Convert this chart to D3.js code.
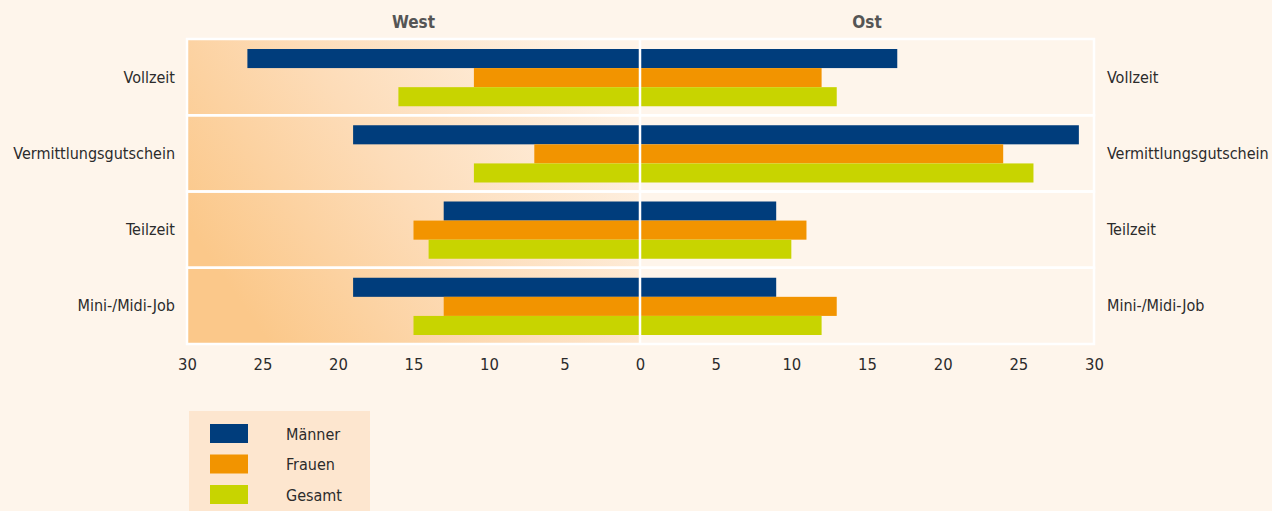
<!DOCTYPE html>
<html>
<head>
<meta charset="utf-8">
<script src="https://cdn.jsdelivr.net/npm/d3@7"></script>
<style>
    body { margin: 0; background: #fef5eb; }
    svg { display: block; }
    text { font-family: "DejaVu Sans Condensed", "Liberation Sans Narrow", sans-serif; fill: #2b2b2b; }
</style>
</head>
<body>
<svg id="chart" width="1272" height="511"></svg>
<script>
const categories = ['Vollzeit', 'Vermittlungsgutschein', 'Teilzeit', 'Mini-/Midi-Job'];
const seriesNames = ['Männer', 'Frauen', 'Gesamt'];
const westValues = {
    'Männer': [26, 19, 13, 19],
    'Frauen': [11, 7, 15, 13],
    'Gesamt': [16, 11, 14, 15],
};
const ostValues = {
    'Männer': [17, 29, 9, 9],
    'Frauen': [12, 24, 11, 13],
    'Gesamt': [13, 26, 10, 12],
};
const tickValues = [0, 5, 10, 15, 20, 25, 30];
const colors = {'Männer': '#003d7c', 'Frauen': '#f29400', 'Gesamt': '#c8d400'};

const margin = {left: 187, right: 178, top: 39, bottom: 167};
const width = 1272, height = 511;
const zeroX = 640;

const svg = d3.select('#chart');

//scales
const xWest = d3.scaleLinear().domain([0, 30]).range([zeroX, margin.left]);
const xEast = d3.scaleLinear().domain([0, 30]).range([zeroX, width - margin.right]);
const yScale = d3.scaleBand().domain(categories).range([margin.top, height - margin.bottom]);
const ySeries = d3.scaleBand().domain(seriesNames).range([10, yScale.bandwidth() - 9]);

//gradient for west half (absolute coords)
const defs = svg.append('defs');
const grad = defs.append('linearGradient')
    .attr('id', 'westGrad')
    .attr('gradientUnits', 'userSpaceOnUse')
    .attr('x1', 260).attr('y1', 330)
    .attr('x2', 620).attr('y2', 80);
grad.append('stop').attr('offset', 0).attr('stop-color', '#fbc88a');
grad.append('stop').attr('offset', 0.45).attr('stop-color', '#fddcb8');
grad.append('stop').attr('offset', 1).attr('stop-color', '#fef3e7');

//row backgrounds, west half
svg.append('g').selectAll('rect')
    .data(categories)
    .enter().append('rect')
    .attr('x', xWest(30))
    .attr('y', d => yScale(d))
    .attr('width', zeroX - xWest(30))
    .attr('height', yScale.bandwidth())
    .attr('fill', 'url(#westGrad)');

//row frames
svg.append('g').selectAll('rect')
    .data(categories)
    .enter().append('rect')
    .attr('x', xWest(30))
    .attr('y', d => yScale(d))
    .attr('width', xEast(30) - xWest(30))
    .attr('height', yScale.bandwidth())
    .attr('fill', 'none')
    .attr('stroke', '#ffffff')
    .attr('stroke-width', 2.5);

//bars
seriesNames.forEach(name => {
    svg.append('g').selectAll('rect.west')
        .data(categories)
        .enter().append('rect')
        .attr('x', (d, i) => xWest(westValues[name][i]))
        .attr('y', d => yScale(d) + ySeries(name))
        .attr('width', (d, i) => zeroX - xWest(westValues[name][i]))
        .attr('height', ySeries.bandwidth())
        .attr('fill', colors[name]);
    svg.append('g').selectAll('rect.east')
        .data(categories)
        .enter().append('rect')
        .attr('x', zeroX)
        .attr('y', d => yScale(d) + ySeries(name))
        .attr('width', (d, i) => xEast(ostValues[name][i]) - zeroX)
        .attr('height', ySeries.bandwidth())
        .attr('fill', colors[name]);
});

//zero line
svg.append('line')
    .attr('x1', zeroX).attr('x2', zeroX)
    .attr('y1', margin.top).attr('y2', height - margin.bottom)
    .attr('stroke', '#ffffff')
    .attr('stroke-width', 2.5);

//axes
const axisY = 370;
[xWest, xEast].forEach((scale, k) => {
    const g = svg.append('g')
        .attr('transform', `translate(0, ${axisY - 6})`)
        .call(d3.axisBottom(scale).tickValues(k === 1 ? tickValues.slice(1) : tickValues).tickSize(0).tickPadding(0));
    g.select('.domain').remove();
    g.selectAll('text')
        .attr('font-size', 16.5)
        .attr('dy', '0.35em')
        .style('font-family', '"DejaVu Sans Condensed", sans-serif')
        .attr('fill', '#2b2b2b');
});

//category labels
svg.append('g').selectAll('text')
    .data(categories)
    .enter().append('text')
    .attr('x', 175)
    .attr('y', d => yScale(d) + yScale.bandwidth() / 2)
    .attr('dy', '0.35em')
    .attr('text-anchor', 'end')
    .attr('font-size', 16)
    .text(d => d);

svg.append('g').selectAll('text')
    .data(categories)
    .enter().append('text')
    .attr('x', 1107)
    .attr('y', d => yScale(d) + yScale.bandwidth() / 2)
    .attr('dy', '0.35em')
    .attr('font-size', 16)
    .text(d => d);

//panel titles
svg.append('text')
    .attr('x', (xWest(30) + zeroX) / 2)
    .attr('y', 28)
    .attr('text-anchor', 'middle')
    .attr('font-size', 17)
    .attr('font-weight', 'bold')
    .style('fill', '#555555')
    .text('West');
svg.append('text')
    .attr('x', (xEast(30) + zeroX) / 2)
    .attr('y', 28)
    .attr('text-anchor', 'middle')
    .attr('font-size', 17)
    .attr('font-weight', 'bold')
    .style('fill', '#555555')
    .text('Ost');

//legend
const legend = svg.append('g').attr('transform', 'translate(189, 411)');
legend.append('rect')
    .attr('width', 181)
    .attr('height', 100)
    .attr('fill', '#fde6cf');
const legendItems = legend.selectAll('g.item')
    .data(seriesNames)
    .enter().append('g')
    .attr('transform', (d, i) => `translate(21, ${13 + i * 30.5})`);
legendItems.append('rect')
    .attr('width', 38)
    .attr('height', 19)
    .attr('fill', d => colors[d]);
legendItems.append('text')
    .attr('x', 76)
    .attr('y', 10)
    .attr('dy', '0.35em')
    .attr('font-size', 16)
    .text(d => d);
</script>
</body>
</html>
